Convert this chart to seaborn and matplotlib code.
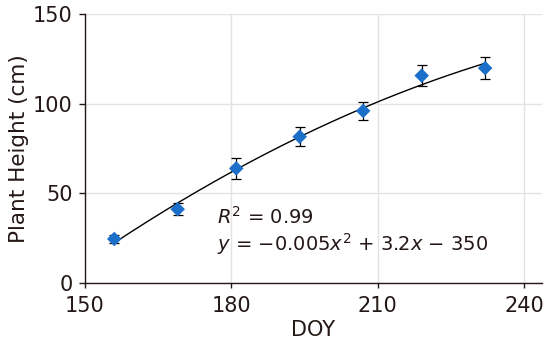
import numpy as np
import pandas as pd
import seaborn as sns
import matplotlib.pyplot as plt

# data
doy = [156, 169, 181, 194, 207, 219, 232]
height = [24.4, 41.0, 63.8, 81.5, 95.9, 115.6, 119.8]
height_err = [2.0, 3.3, 6.0, 5.3, 5.0, 5.7, 6.3]

x_ticks = [150, 180, 210, 240]
y_ticks = [0, 50, 100, 150]

df = pd.DataFrame({'DOY': doy, 'Height': height, 'Err': height_err})

# quadratic fit through the points
coef = np.polyfit(df['DOY'], df['Height'], 2)
fit_x = np.linspace(min(doy), max(doy), 200)
fit_df = pd.DataFrame({'DOY': fit_x, 'Height': np.polyval(coef, fit_x)})

sns.set_style('whitegrid', {'grid.color': '#e3e3e3', 'axes.edgecolor': '#231815'})
plt.rcParams['font.family'] = ['DejaVu Sans']
plt.rcParams['mathtext.fontset'] = 'dejavusans'

fig = plt.figure(figsize=(5.5, 3.45), dpi=100)
ax = fig.add_axes([0.1545, 0.1806, 0.8305, 0.7788])

text_color = '#231815'
blue = '#1b6fc8'

sns.lineplot(data=fit_df, x='DOY', y='Height', color='black', linewidth=1.0, ax=ax, zorder=2)
ax.errorbar(df['DOY'], df['Height'], yerr=df['Err'], fmt='none', ecolor='black',
            elinewidth=0.9, capsize=3.5, capthick=0.9, zorder=3)
sns.scatterplot(data=df, x='DOY', y='Height', marker='D', s=55, color=blue,
                edgecolor='none', ax=ax, zorder=4)

ax.set_xlim(150, 243.6)
ax.set_ylim(0, 150)
ax.set_xticks(x_ticks)
ax.set_yticks(y_ticks)
ax.tick_params(axis='both', labelsize=15, colors=text_color, width=1,
               direction='out', bottom=True, left=True)
ax.tick_params(axis='x', length=3.6, pad=6)
ax.tick_params(axis='y', length=4.3, pad=4.5)
ax.set_xlabel('DOY', fontsize=15, color=text_color, labelpad=3)
ax.set_ylabel('Plant Height (cm)', fontsize=15.5, color=text_color, labelpad=3)

for side in ['top', 'right']:
    ax.spines[side].set_visible(False)
for side in ['left', 'bottom']:
    ax.spines[side].set_linewidth(1.0)
    ax.spines[side].set_color(text_color)
ax.grid(True, linewidth=1.0)

ax.text(177, 36.7, r'$R^2$ = 0.99', fontsize=14, color=text_color, va='center')
ax.text(177, 21.6, r'$y$ = −0.005$x^2$ + 3.2$x$ − 350', fontsize=14,
        color=text_color, va='center')

fig.savefig('out.png', dpi=100)
